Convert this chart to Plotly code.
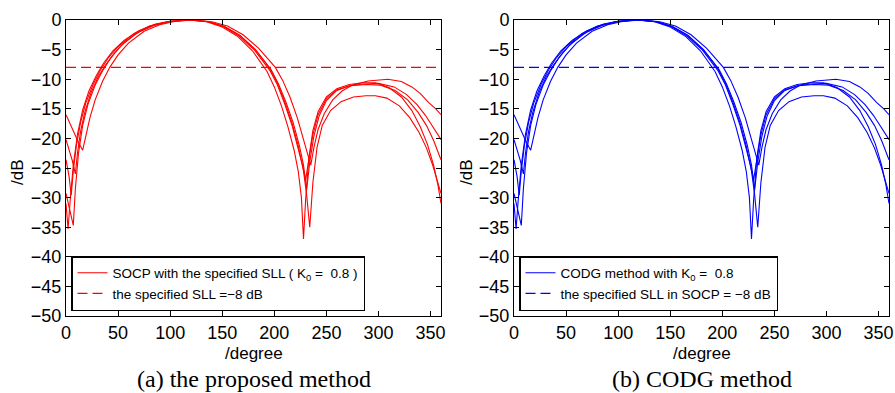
import plotly.graph_objects as go

# ---- data ----
c1_deg = [0, 4, 8, 12, 16, 19, 23, 28, 35, 42, 50, 60, 75, 90, 105, 123, 140, 155, 170, 185, 195, 201, 208, 215, 222, 228, 232, 235, 238, 242, 248, 256, 265, 275, 290, 309, 322, 332, 340, 348, 355, 360]
c1_db = [-16.0, -17.6, -19.2, -20.7, -22.0, -19.5, -16.5, -13.5, -10.4, -8.0, -5.9, -3.9, -1.9, -0.8, -0.2, 0, -0.3, -1.0, -2.5, -4.8, -6.9, -8.0, -10.2, -13.0, -16.5, -20.2, -22.8, -24.5, -21.5, -18.5, -15.8, -13.5, -12.0, -11.0, -10.3, -10.0, -10.4, -11.3, -12.4, -13.9, -15.0, -16.0]

c2_deg = [0, 3, 6, 9, 11, 14, 18, 24, 31, 38, 46, 56, 70, 85, 100, 120, 137, 152, 167, 182, 192, 197, 204, 211, 218, 224, 228, 231, 234, 238, 243, 250, 260, 272, 286, 300, 315, 327, 337, 345, 352, 360]
c2_db = [-20.2, -21.8, -23.7, -26.0, -22.5, -18.8, -15.6, -12.3, -9.6, -7.6, -5.7, -3.8, -2.0, -0.9, -0.25, 0, -0.3, -1.1, -2.6, -5.0, -7.2, -8.4, -10.8, -13.8, -17.3, -21.2, -24.5, -28.7, -24.0, -19.6, -16.2, -13.6, -11.9, -11.1, -10.8, -10.7, -11.3, -12.6, -14.3, -16.1, -18.0, -20.2]

c3_deg = [0, 3, 5, 7, 10, 14, 19, 26, 33, 41, 51, 65, 80, 98, 119, 136, 151, 166, 181, 191, 196, 203, 210, 217, 223, 227, 230, 233, 237, 242, 250, 260, 273, 288, 302, 316, 328, 338, 346, 353, 360]
c3_db = [-23.6, -26.5, -29.6, -25.5, -21.2, -17.3, -14.0, -10.9, -8.5, -6.3, -4.3, -2.3, -1.0, -0.25, 0, -0.3, -1.1, -2.7, -5.1, -7.4, -8.6, -11.0, -14.2, -17.8, -21.6, -24.5, -27.0, -23.5, -19.4, -16.0, -13.3, -11.8, -11.1, -10.9, -11.0, -11.9, -13.5, -15.6, -17.8, -20.4, -23.6]

c4_deg = [0, 1, 2, 4, 7, 11, 16, 22, 29, 36, 45, 56, 70, 86, 100, 118, 135, 150, 165, 179, 188, 193, 200, 207, 213, 219, 223, 226, 228, 230, 233, 237, 242, 250, 260, 272, 285, 297, 310, 322, 332, 340, 347, 353, 357, 360]
c4_db = [-31.0, -33.5, -35.3, -30.5, -24.5, -19.3, -15.2, -12.0, -9.4, -7.3, -5.2, -3.4, -1.8, -0.7, -0.2, 0, -0.3, -1.2, -2.8, -5.2, -7.4, -8.7, -11.3, -14.6, -18.0, -22.0, -25.6, -30.0, -37.0, -30.5, -23.5, -18.7, -15.5, -13.0, -11.6, -10.9, -10.6, -10.6, -11.4, -13.0, -15.3, -18.0, -21.0, -24.6, -27.8, -31.0]

c5_deg = [0, 3, 5, 7, 9, 12, 16, 21, 28, 35, 43, 53, 66, 82, 100, 120, 137, 152, 167, 181, 191, 196, 203, 210, 217, 223, 228, 231, 234, 237, 241, 246, 254, 264, 276, 288, 297, 308, 320, 330, 339, 346, 352, 356, 360]
c5_db = [-29.3, -31.5, -33.3, -34.7, -28.5, -22.5, -17.8, -14.3, -11.0, -8.6, -6.4, -4.3, -2.4, -1.0, -0.2, 0, -0.3, -1.1, -2.6, -4.9, -7.1, -8.3, -10.7, -13.8, -17.4, -21.3, -25.5, -29.5, -35.0, -27.5, -21.5, -17.8, -15.3, -13.8, -13.0, -12.8, -12.8, -13.2, -14.5, -16.5, -19.0, -21.6, -24.5, -26.8, -29.3]

curves = [(c1_deg, c1_db), (c2_deg, c2_db), (c3_deg, c3_db), (c4_deg, c4_db), (c5_deg, c5_db)]

sll_level = -8
x_ticks = [0, 50, 100, 150, 200, 250, 300, 350]
y_ticks = [0, -5, -10, -15, -20, -25, -30, -35, -40, -45, -50]

legend_a = ["SOCP with the specified SLL ( K<sub>0</sub> =  0.8 )", "the specified SLL =\u22128 dB"]
legend_b = ["CODG method with K<sub>0</sub> =  0.8", "the specified SLL in SOCP = \u22128 dB"]
captions = ["(a) the proposed method", "(b) CODG method"]

W, H = 895, 393
fig = go.Figure()

panels = [
    dict(color="#ff0000", xa="x", ya="y", legend="legend", names=legend_a),
    dict(color="#0000ff", xa="x2", ya="y2", legend="legend2", names=legend_b),
]

for p in panels:
    for i, (xd, yd) in enumerate(curves):
        fig.add_trace(go.Scatter(
            x=xd, y=yd, mode="lines", xaxis=p["xa"], yaxis=p["ya"],
            line=dict(color=p["color"], width=1.1),
            name=p["names"][0], showlegend=(i == 0), legend=p["legend"]))
    fig.add_trace(go.Scatter(
        x=[0, 360], y=[sll_level, sll_level], mode="lines", xaxis=p["xa"], yaxis=p["ya"],
        line=dict(color=p["color"], width=1.1, dash="10px,5px"),
        name=p["names"][1], showlegend=True, legend=p["legend"]))

px = lambda v: v / W
py = lambda v: 1 - v / H

xdom_a = [px(66), px(441)]
xdom_b = [px(514), px(889)]
ydom = [py(316), py(20)]

axis_common = dict(
    showline=True, linecolor="black", linewidth=1, mirror="ticks",
    ticks="inside", ticklen=5, tickcolor="black", tickwidth=1,
    showgrid=False, zeroline=False, automargin=False,
    tickfont=dict(family="Liberation Sans, Arial, sans-serif", size=18, color="black"),
)

legend_common = dict(
    xanchor="left", yanchor="bottom",
    bgcolor="white", bordercolor="black", borderwidth=1.5,
    font=dict(family="Liberation Sans, Arial, sans-serif", size=13.5, color="black"),
    tracegroupgap=0, itemwidth=30,
)

fig.update_layout(
    width=W, height=H,
    margin=dict(l=0, r=0, t=0, b=0, autoexpand=False),
    paper_bgcolor="white", plot_bgcolor="white",
    xaxis=dict(domain=xdom_a, range=[0, 360], tickvals=x_ticks, anchor="y", **axis_common),
    yaxis=dict(domain=ydom, range=[-50, 0], tickvals=y_ticks, anchor="x", **axis_common),
    xaxis2=dict(domain=xdom_b, range=[0, 360], tickvals=x_ticks, anchor="y2", **axis_common),
    yaxis2=dict(domain=ydom, range=[-50, 0], tickvals=y_ticks, anchor="x2", **axis_common),
    legend=dict(x=px(71), y=py(311), **legend_common),
    legend2=dict(x=px(519), y=py(311), **legend_common),
    showlegend=True,
)

label_font = dict(family="Liberation Sans, Arial, sans-serif", size=17, color="black")
cap_font = dict(family="Liberation Serif, Times New Roman, serif", size=24, color="black")
annos = []
for (x0, x1), cap, ylab_x in [((66, 441), captions[0], 17), ((514, 889), captions[1], 466)]:
    cx = (x0 + x1) / 2
    annos.append(dict(x=px(cx), y=py(353), xref="paper", yref="paper", text="/degree",
                      showarrow=False, font=label_font, xanchor="center", yanchor="middle"))
    annos.append(dict(x=px(cx), y=py(379), xref="paper", yref="paper", text=cap,
                      showarrow=False, font=cap_font, xanchor="center", yanchor="middle"))
    annos.append(dict(x=px(ylab_x), y=py(172), xref="paper", yref="paper", text="/dB",
                      showarrow=False, font=label_font, textangle=-90,
                      xanchor="center", yanchor="middle"))
fig.update_layout(annotations=annos)

fig.write_html(
    "out.html",
    config={"displayModeBar": False},
    post_script="document.body.style.margin='0px';document.body.style.overflow='hidden';",
)
